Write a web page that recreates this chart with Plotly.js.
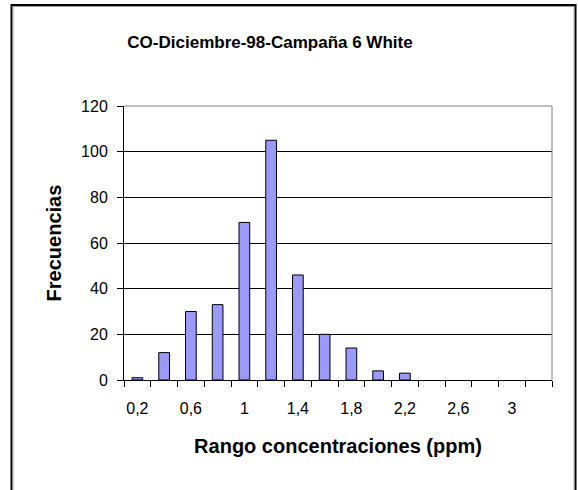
<!DOCTYPE html>
<html>
<head>
<meta charset="utf-8">
<script src="https://cdn.plot.ly/plotly-3.0.1.min.js"></script>
<style>html,body{margin:0;padding:0;background:#fff;}#chart{width:578px;height:490px;}</style>
</head>
<body>
<div id="chart"></div>
<script>
// Data
var categories = ["0,2","0,4","0,6","0,8","1","1,2","1,4","1,6","1,8","2","2,2","2,4","2,6","2,8","3","3,2"];
var frequencies = [1,12,30,33,69,105,46,20,14,4,3,0,0,0,0,0];
var tickLabels = ["0,2","","0,6","","1","","1,4","","1,8","","2,2","","2,6","","3",""];
var titleText = "CO-Diciembre-98-Campaña 6 White";
var xTitle = "Rango concentraciones (ppm)";
var yTitle = "Frecuencias";

var L = 124, R = 552, T = 106, B = 380, W = 578, H = 490;
function px(x){ return (x - L) / (R - L); }
function py(y){ return (B - y) / (B - T); }

var font = "Liberation Sans, Arial, sans-serif";

var trace = {
  type: "bar",
  x: categories,
  y: frequencies,
  marker: {color: "#9999FF", line: {color: "#000000", width: frequencies.map(function(v){ return v > 0 ? 1 : 0; })}},
  hoverinfo: "x+y"
};

var layout = {
  width: W, height: H,
  margin: {l: L, r: W - R, t: T, b: H - B, pad: 0},
  paper_bgcolor: "#ffffff",
  plot_bgcolor: "#ffffff",
  showlegend: false,
  bargap: 0.6,
  font: {family: font, color: "#000000", size: 16},
  title: {
    text: "<b>" + titleText + "</b>",
    font: {family: font, size: 17, color: "#000"},
    xref: "container", yref: "container",
    x: 270 / W, y: 1 - 42 / H, xanchor: "center", yanchor: "middle"
  },
  xaxis: {
    type: "category",
    range: [-0.5, categories.length - 0.5],
    tickmode: "array",
    tickvals: categories,
    ticktext: tickLabels,
    tickson: "boundaries",
    tickangle: 0,
    ticks: "outside", ticklen: 6, tickwidth: 1, tickcolor: "#000",
    ticklabelstandoff: 14,
    showline: true, linecolor: "#000", linewidth: 1,
    showgrid: false, zeroline: false,
    tickfont: {family: font, size: 16, color: "#000"},
    title: {text: "<b>" + xTitle + "</b>", font: {family: font, size: 20, color: "#000"}, standoff: 22},
    automargin: false, fixedrange: true
  },
  yaxis: {
    range: [0, 120],
    dtick: 20, tick0: 0,
    ticks: "outside", ticklen: 6, tickwidth: 1, tickcolor: "#000",
    ticklabelstandoff: 6,
    showline: true, linecolor: "#000", linewidth: 1,
    showgrid: true, gridcolor: "#000", gridwidth: 1,
    zeroline: false,
    tickfont: {family: font, size: 16, color: "#000"},
    title: {text: "<b>" + yTitle + "</b>", font: {family: font, size: 20, color: "#000"}, standoff: 14},
    automargin: false, fixedrange: true
  },
  shapes: [
    {type: "line", xref: "paper", yref: "paper", x0: 0, x1: 1, y0: 1, y1: 1, line: {color: "#808080", width: 1}, layer: "above"},
    {type: "line", xref: "paper", yref: "paper", x0: 1, x1: 1, y0: 0, y1: 1, line: {color: "#808080", width: 1}, layer: "above"},
    {type: "rect", xref: "paper", yref: "paper", x0: px(11.5), x1: px(575.5), y0: py(5), y1: py(500), line: {color: "#000", width: 2}, layer: "above"},
    {type: "rect", xref: "paper", yref: "paper", x0: px(13), x1: px(574), y0: py(6.5), y1: py(500), line: {color: "#a0a0a0", width: 1}, layer: "above"}
  ]
};

Plotly.newPlot("chart", [trace], layout, {displayModeBar: false, staticPlot: true});
</script>
</body>
</html>
